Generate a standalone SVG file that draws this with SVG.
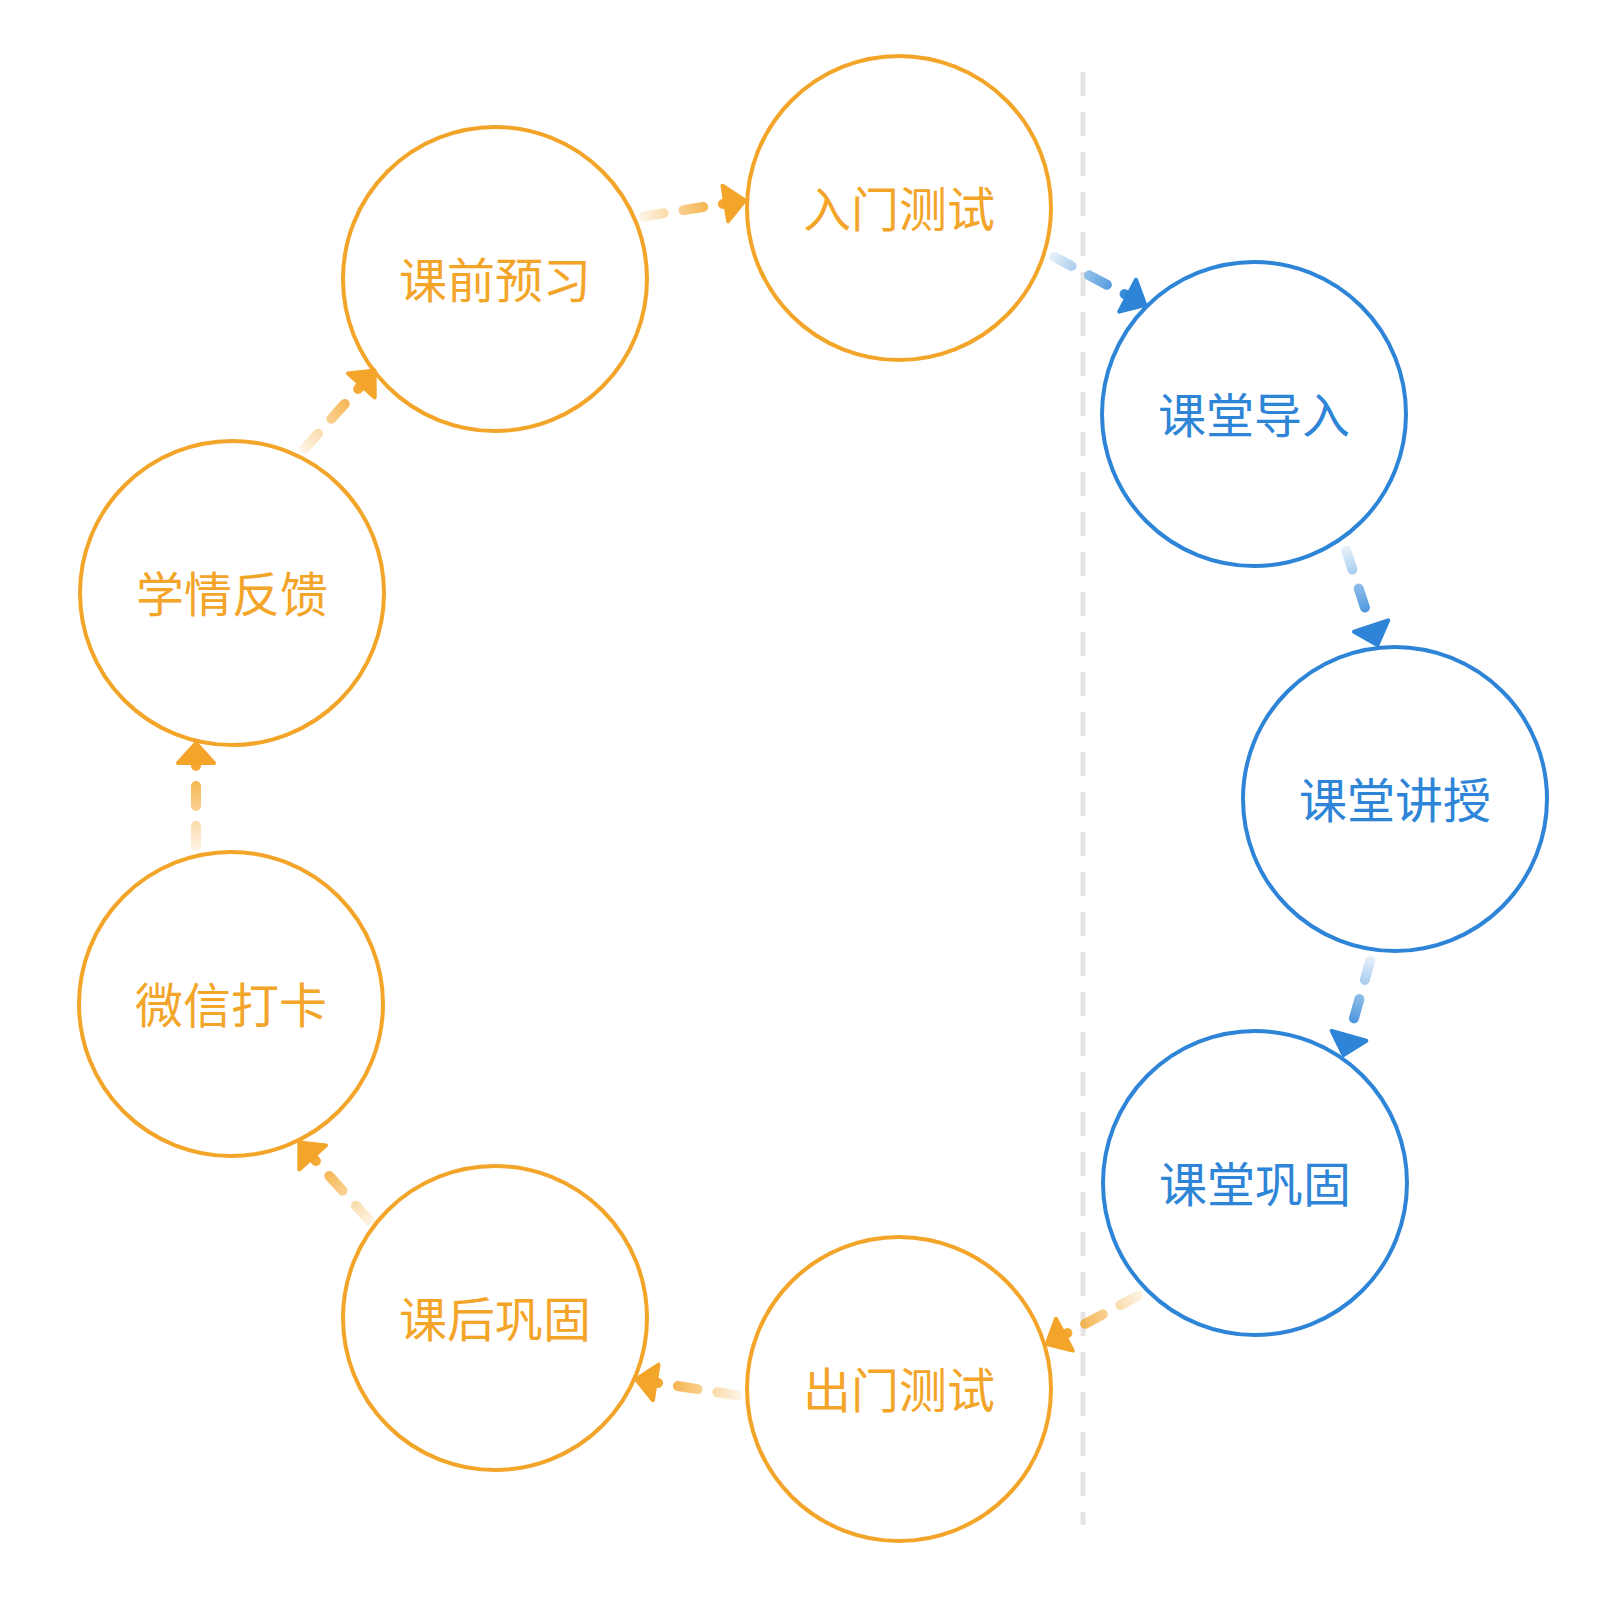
<svg xmlns="http://www.w3.org/2000/svg" width="1600" height="1600" viewBox="0 0 1600 1600">
  <style>
    .node-o circle { fill: #ffffff; stroke: #F3A52A; stroke-width: 4; }
    .node-b circle { fill: #ffffff; stroke: #2E85D7; stroke-width: 4; }
    .node-o text { fill: #F3A52A; }
    .node-b text { fill: #2E85D7; }
    text { font-family: "Noto Sans CJK SC", "Noto Sans", sans-serif; font-size: 48px; text-anchor: middle; }
    .conn { fill: none; stroke-width: 10; stroke-linecap: round; stroke-dasharray: 20 20; stroke-dashoffset: 30; }
    .divider { stroke: #E4E4E4; stroke-width: 5; stroke-dasharray: 24 16; fill: none; }
  </style>
  <defs>
    <marker id="arrowO" markerUnits="userSpaceOnUse" orient="auto" refX="0" refY="0" markerWidth="30" markerHeight="50" overflow="visible">
      <path d="M0,-18 L20,0 L0,18 Z" fill="#F3A52A" stroke="#F3A52A" stroke-width="4" stroke-linejoin="round"/>
    </marker>
    <marker id="arrowB" markerUnits="userSpaceOnUse" orient="auto" refX="0" refY="0" markerWidth="30" markerHeight="50" overflow="visible">
      <path d="M0,-18 L20,0 L0,18 Z" fill="#2E85D7" stroke="#2E85D7" stroke-width="4" stroke-linejoin="round"/>
    </marker>
    <linearGradient id="gA" gradientUnits="userSpaceOnUse" x1="298" y1="456" x2="361.3" y2="385.4"><stop offset="0" stop-color="#F3A52A" stop-opacity="0.05"/><stop offset="1" stop-color="#F3A52A" stop-opacity="1"/></linearGradient>
    <linearGradient id="gB" gradientUnits="userSpaceOnUse" x1="634" y1="218" x2="725.3" y2="203.5"><stop offset="0" stop-color="#F3A52A" stop-opacity="0.05"/><stop offset="1" stop-color="#F3A52A" stop-opacity="1"/></linearGradient>
    <linearGradient id="gC" gradientUnits="userSpaceOnUse" x1="1045" y1="252" x2="1127.6" y2="295.7"><stop offset="0" stop-color="#2E85D7" stop-opacity="0.05"/><stop offset="1" stop-color="#2E85D7" stop-opacity="1"/></linearGradient>
    <linearGradient id="gD" gradientUnits="userSpaceOnUse" x1="1343" y1="541" x2="1371.1" y2="626.1"><stop offset="0" stop-color="#2E85D7" stop-opacity="0.05"/><stop offset="1" stop-color="#2E85D7" stop-opacity="1"/></linearGradient>
    <linearGradient id="gE" gradientUnits="userSpaceOnUse" x1="1373" y1="951" x2="1349" y2="1035.8"><stop offset="0" stop-color="#2E85D7" stop-opacity="0.05"/><stop offset="1" stop-color="#2E85D7" stop-opacity="1"/></linearGradient>
    <linearGradient id="gF" gradientUnits="userSpaceOnUse" x1="1147" y1="1291" x2="1064.4" y2="1334.7"><stop offset="0" stop-color="#F3A52A" stop-opacity="0.05"/><stop offset="1" stop-color="#F3A52A" stop-opacity="1"/></linearGradient>
    <linearGradient id="gG" gradientUnits="userSpaceOnUse" x1="747" y1="1397" x2="655.7" y2="1382.5"><stop offset="0" stop-color="#F3A52A" stop-opacity="0.05"/><stop offset="1" stop-color="#F3A52A" stop-opacity="1"/></linearGradient>
    <linearGradient id="gH" gradientUnits="userSpaceOnUse" x1="376" y1="1228" x2="312.7" y2="1157.4"><stop offset="0" stop-color="#F3A52A" stop-opacity="0.05"/><stop offset="1" stop-color="#F3A52A" stop-opacity="1"/></linearGradient>
    <linearGradient id="gI" gradientUnits="userSpaceOnUse" x1="196" y1="856" x2="196" y2="763"><stop offset="0" stop-color="#F3A52A" stop-opacity="0.05"/><stop offset="1" stop-color="#F3A52A" stop-opacity="1"/></linearGradient>
  </defs>

  <rect x="0" y="0" width="1600" height="1600" fill="#ffffff"/>

  <line class="divider" x1="1083" y1="72" x2="1083" y2="1525"/>

  <g id="n1" class="node-o"><circle cx="495" cy="279" r="152"/><text x="495" y="298">课前预习</text></g>
  <g id="n2" class="node-o"><circle cx="899" cy="208" r="152"/><text x="899" y="227">入门测试</text></g>
  <g id="n3" class="node-b"><circle cx="1254" cy="414" r="152"/><text x="1254" y="433">课堂导入</text></g>
  <g id="n4" class="node-b"><circle cx="1395" cy="799" r="152"/><text x="1395" y="818">课堂讲授</text></g>
  <g id="n5" class="node-b"><circle cx="1255" cy="1183" r="152"/><text x="1255" y="1202">课堂巩固</text></g>
  <g id="n6" class="node-o"><circle cx="899" cy="1389" r="152"/><text x="899" y="1408">出门测试</text></g>
  <g id="n7" class="node-o"><circle cx="495" cy="1318" r="152"/><text x="495" y="1337">课后巩固</text></g>
  <g id="n8" class="node-o"><circle cx="231" cy="1004" r="152"/><text x="231" y="1023">微信打卡</text></g>
  <g id="n9" class="node-o"><circle cx="232" cy="593" r="152"/><text x="232" y="612">学情反馈</text></g>

  <g id="connectors">
    <path class="conn" d="M298,456 L361.3,385.4" stroke="url(#gA)" marker-end="url(#arrowO)"/>
    <path class="conn" d="M634,218 L725.3,203.5" stroke="url(#gB)" marker-end="url(#arrowO)"/>
    <path class="conn" d="M1045,252 L1127.6,295.7" stroke="url(#gC)" marker-end="url(#arrowB)"/>
    <path class="conn" d="M1343,541 L1371.1,626.1" stroke="url(#gD)" marker-end="url(#arrowB)"/>
    <path class="conn" d="M1373,951 L1349,1035.8" stroke="url(#gE)" marker-end="url(#arrowB)"/>
    <path class="conn" d="M1147,1291 L1064.4,1334.7" stroke="url(#gF)" marker-end="url(#arrowO)"/>
    <path class="conn" d="M747,1397 L655.7,1382.5" stroke="url(#gG)" marker-end="url(#arrowO)"/>
    <path class="conn" d="M376,1228 L312.7,1157.4" stroke="url(#gH)" marker-end="url(#arrowO)"/>
    <path class="conn" d="M196,856 L196,763" stroke="url(#gI)" marker-end="url(#arrowO)"/>
  </g>
</svg>
